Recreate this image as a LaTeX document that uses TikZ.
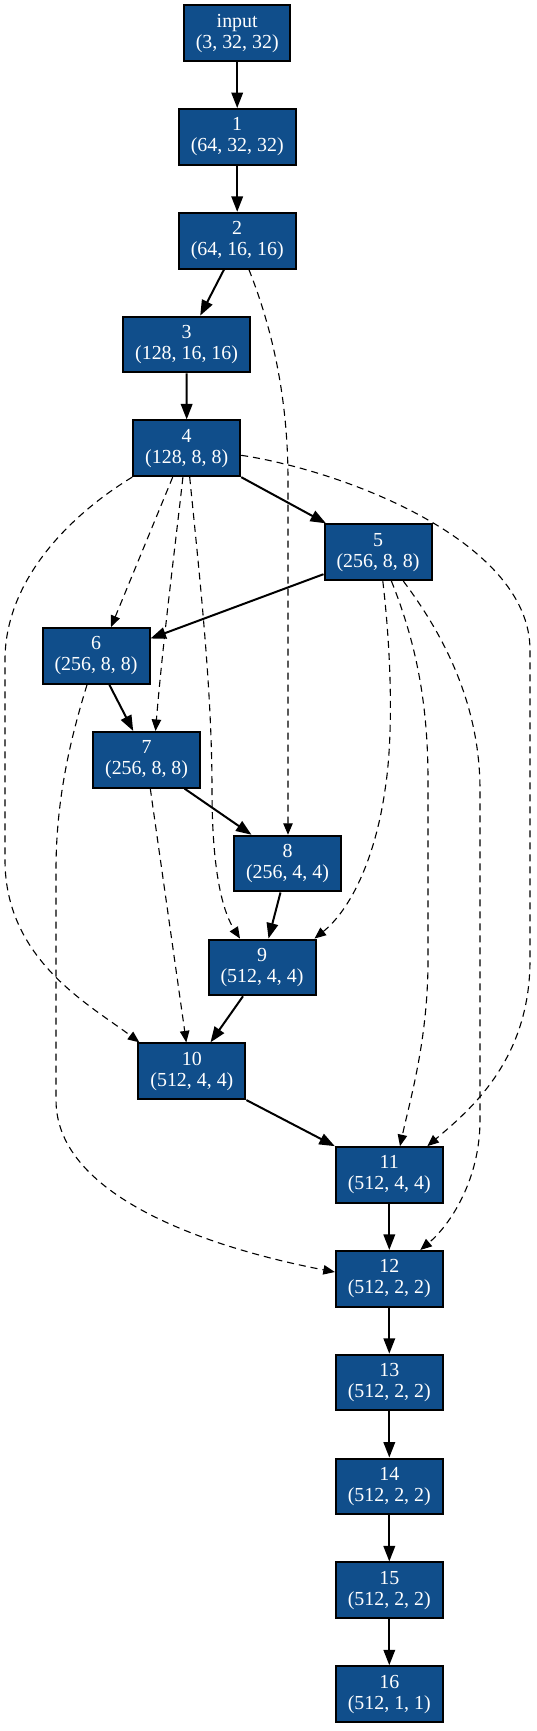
\documentclass[tikz,border=0pt]{standalone}
\usepackage{fontspec}
\setmainfont{Liberation Serif}
\usetikzlibrary{arrows.meta,calc}
\definecolor{nodeblue}{RGB}{16,78,139}
\begin{document}
\begin{tikzpicture}[x=1pt,y=-1pt,
  nn/.style={draw=black, line width=2pt, fill=nodeblue, text=white,
    minimum height=55.7pt, minimum width=107pt, inner sep=0pt, align=center,
    font=\fontsize{19.9}{21}\selectfont},
  sedge/.style={line width=2pt, -{Triangle[length=15.5pt,width=11.5pt]}},
  dedge/.style={line width=1.1pt, dash pattern=on 7pt off 5pt, -{Triangle[length=11.5pt,width=9.5pt]}}]
\useasboundingbox (0,0) rectangle (536,1731);
% nodes
\node[nn, minimum width=106pt] (in) at (237.2,33.1) {input\\(3, 32, 32)};
\node[nn, minimum width=117pt] (n1) at (237.2,136.9) {1\\(64, 32, 32)};
\node[nn, minimum width=117pt] (n2) at (237.2,240.7) {2\\(64, 16, 16)};
\node[nn, minimum width=127.5pt] (n3) at (186.6,344.5) {3\\(128, 16, 16)};
\node[nn] (n4) at (186.7,448.3) {4\\(128, 8, 8)};
\node[nn] (n5) at (378,552.2) {5\\(256, 8, 8)};
\node[nn] (n6) at (96,656.0) {6\\(256, 8, 8)};
\node[nn] (n7) at (146.6,759.8) {7\\(256, 8, 8)};
\node[nn] (n8) at (287.5,863.6) {8\\(256, 4, 4)};
\node[nn] (n9) at (262,967.4) {9\\(512, 4, 4)};
\node[nn] (n10) at (191.9,1071.2) {10\\(512, 4, 4)};
\node[nn] (n11) at (389.3,1175.0) {11\\(512, 4, 4)};
\node[nn] (n12) at (389.3,1278.8) {12\\(512, 2, 2)};
\node[nn] (n13) at (389.3,1382.6) {13\\(512, 2, 2)};
\node[nn] (n14) at (389.3,1486.4) {14\\(512, 2, 2)};
\node[nn] (n15) at (389.3,1590.3) {15\\(512, 2, 2)};
\node[nn] (n16) at (389.3,1694.1) {16\\(512, 1, 1)};
% solid edges
\draw[sedge] (in) -- (n1);
\draw[sedge] (n1) -- (n2);
\draw[sedge] ($(n2.south)+(-13.2,0)$) -- ($(n3.north)+(13.6,0)$);
\draw[sedge] (n3) -- (n4);
\draw[sedge] (n4.south east) -- ($(n5.north west)+(2.5,0)$);
\draw[sedge] ($(n5.west)+(0,22)$) -- ($(n6.east)+(0,-17.5)$);
\draw[sedge] ($(n6.south)+(13.4,0)$) -- ($(n7.north)+(-13.4,0)$);
\draw[sedge] ($(n7.south)+(38,0)$) -- ($(n8.north)+(-36,0)$);
\draw[sedge] ($(n8.south)+(-7,0)$) -- ($(n9.north)+(6.5,0)$);
\draw[sedge] ($(n9.south)+(-19,0)$) -- ($(n10.north)+(18.6,0)$);
\draw[sedge] (n10.south east) -- (n11.north west);
\draw[sedge] (n11) -- (n12);
\draw[sedge] (n12) -- (n13);
\draw[sedge] (n13) -- (n14);
\draw[sedge] (n14) -- (n15);
\draw[sedge] (n15) -- (n16);
% dashed edges
\draw[dedge] ($(n2.south)+(11.7,0)$) .. controls (273,330) and (288,400) .. (288,480) -- ($(n8.north)+(0.5,0)$);
\draw[dedge] ($(n4.south)+(-14,0)$) -- ($(n6.north)+(15,0)$);
\draw[dedge] ($(n4.south)+(-3.8,0)$) .. controls (176,540) and (163,640) .. ($(n7.north)+(8.9,0)$);
\draw[dedge] ($(n4.south)+(3,0)$) .. controls (200,580) and (212,690) .. (212,790) .. controls (212,880) and (225,915) .. ($(n9.north)+(-22,0)$);
\draw[dedge] (n4.south west) .. controls (70,515) and (5,580) .. (5,660) -- (5,860) .. controls (5,960) and (90,1005) .. ($(n10.north west)+(2,0)$);
\draw[dedge] ($(n4.east)+(0,7)$) .. controls (340,470) and (530,540) .. (530,650) -- (530,960) .. controls (530,1060) and (470,1110) .. ($(n11.north)+(38,0)$);
\draw[dedge] ($(n5.south)+(4.8,0)$) .. controls (392,660) and (393,740) .. (385,790) .. controls (375,860) and (350,910) .. ($(n9.north east)+(-2,0)$);
\draw[dedge] ($(n5.south)+(13.4,0)$) .. controls (415,640) and (428,700) .. (428,780) -- (428,960) .. controls (428,1040) and (410,1100) .. ($(n11.north)+(10.7,0)$);
\draw[dedge] ($(n5.south)+(25.3,0)$) .. controls (440,630) and (480,700) .. (480,790) -- (480,1120) .. controls (480,1180) and (450,1225) .. ($(n12.north)+(31,0)$);
\draw[dedge] ($(n6.south)+(-9,0)$) .. controls (70,740) and (56,800) .. (56,870) -- (56,1100) .. controls (56,1200) and (220,1250) .. ($(n12.west)+(0,-6.8)$);
\draw[dedge] ($(n7.south)+(3.7,0)$) -- ($(n10.north)+(-5.6,0)$);
\end{tikzpicture}
\end{document}
